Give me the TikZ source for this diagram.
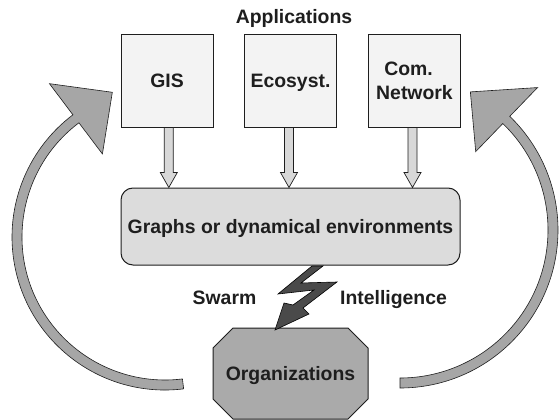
\documentclass[tikz,border=0pt]{standalone}
\usepackage{fontspec}
\setmainfont{Liberation Sans}
\definecolor{appfill}{HTML}{F3F3F3}
\definecolor{grfill}{HTML}{DCDCDC}
\definecolor{orgfill}{HTML}{AAAAAA}
\definecolor{bigfill}{HTML}{A6A6A6}
\definecolor{smfill}{HTML}{D8D8D8}
\definecolor{boltfill}{HTML}{4A4A4A}
\definecolor{ink}{HTML}{1E1E1E}
\begin{document}
\begin{tikzpicture}[x=1pt,y=-1pt,
  lbl/.style={font=\fontsize{19.4}{24}\selectfont\bfseries, text=ink, inner sep=0pt},
  appbox/.style={lbl, draw=ink, line width=1pt, fill=appfill, minimum width=92pt, minimum height=92pt, text depth=0pt, align=center},
  grbox/.style={lbl, draw=ink, line width=1pt, fill=grfill, minimum width=339pt, minimum height=77pt, rounded corners=12pt, text depth=0pt},
  orgtext/.style={lbl, text depth=0pt},
  octagon/.style={draw=ink, line width=1pt, fill=orgfill},
  bigarrow/.style={draw=ink, line width=0.6pt, fill=bigfill, line join=miter},
  smallarrow/.style={draw=ink, line width=0.7pt, fill=smfill, line join=miter},
  bolt/.style={draw=black, line width=0.6pt, fill=boltfill, line join=miter}]
\useasboundingbox (0,0) rectangle (560,420);
\fill[white] (0,0) rectangle (560,420);

% big circular arrows
\coordinate (lc) at (165,237);
\coordinate (rc) at (400,230);
\draw[bigarrow] ([shift={(83:153)}]lc) arc[start angle=83, end angle=233, radius=153]
  -- ([shift={(233:192)}]lc) -- ([shift={(250:154)}]lc) -- ([shift={(233:104)}]lc)
  -- ([shift={(233:143)}]lc) arc[start angle=233, end angle=83, radius=143] -- cycle;
\draw[bigarrow] ([shift={(90:158)}]rc) arc[start angle=90, end angle=-46, radius=158]
  -- ([shift={(-46:198)}]rc) -- ([shift={(-63:155)}]rc) -- ([shift={(-46:109)}]rc)
  -- ([shift={(-46:148)}]rc) arc[start angle=-46, end angle=90, radius=148] -- cycle;

% title
\node[lbl, anchor=base] (apps) at (294,23.3) {Applications};

% application boxes
\node[appbox] (gis) at (167,81) {GIS};
\node[appbox] (eco) at (290.5,81) {Ecosyst.};
\node[appbox] (com) at (414.5,81) {Com.\hspace*{12pt}\\Network};

% graphs box
\node[grbox] (graphs) at (290.5,226.5) {Graphs or dynamical environments};

% small block arrows
\foreach \n/\dx in {gis/1.8, eco/-1.5, com/-2}{
  \path ([xshift=\dx]\n.south) coordinate (s) (s |- graphs.north) coordinate (t);
  \draw[smallarrow] ([xshift=-4.5]s) -- ([xshift=-4.5,yshift=15]t) -- ([xshift=-8.5,yshift=15]t)
    -- (t) -- ([xshift=8.5,yshift=15]t) -- ([xshift=4.5,yshift=15]t) -- ([xshift=4.5]s) -- cycle;
}

% organizations octagon
\draw[octagon] (213,348) -- (233,328) -- (348,328) -- (368,348) -- (368,399) -- (348,419) -- (233,419) -- (213,399) -- cycle;
\node[orgtext] (org) at (290.5,373.5) {Organizations};

% lightning bolt
\draw[bolt] (312,266) -- (323,266) -- (301,283) -- (337,282) -- (303,308) -- (309,314)
  -- (275,330) -- (284,303) -- (293,305) -- (314,290) -- (278,294) -- cycle;

% swarm intelligence labels
\node[lbl, anchor=base] (swarm) at (224.5,304) {Swarm};
\node[lbl, anchor=base] (intel) at (393.5,304) {Intelligence};
\end{tikzpicture}
\end{document}
